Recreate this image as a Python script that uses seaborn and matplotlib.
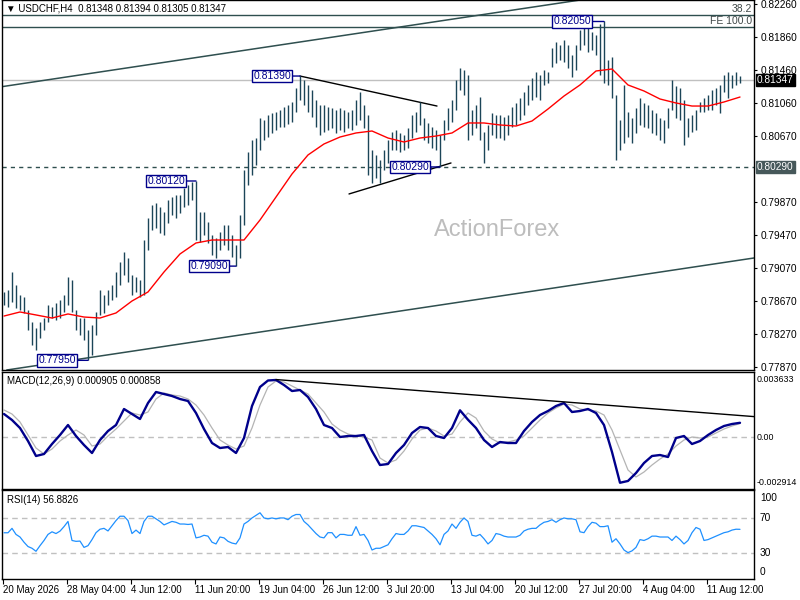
import numpy as np
import pandas as pd
import matplotlib
matplotlib.use("Agg")
import matplotlib.pyplot as plt
import seaborn as sns

# ---------------- data ----------------
header_text = "\u25BC USDCHF,H4  0.81348 0.81394 0.81305 0.81347"

bar_high = [
    0.78777, 0.78801, 0.79019, 0.78862, 0.78741, 0.78716, 0.78559, 0.78414, 0.78341, 0.78414,
    0.78462, 0.78620, 0.78595, 0.78644, 0.78680, 0.78741, 0.78958, 0.78922, 0.78559, 0.78462,
    0.78462, 0.78317, 0.78378, 0.78535, 0.78801, 0.78741, 0.78801, 0.78862, 0.79019, 0.79140,
    0.79261, 0.79188, 0.78983, 0.78958, 0.78922, 0.79406, 0.79672, 0.79830, 0.79854, 0.79805,
    0.79745, 0.79890, 0.79926, 0.79951, 0.79951, 0.80035, 0.80072, 0.80108, 0.80120, 0.79745,
    0.79745, 0.79624, 0.79467, 0.79430, 0.79503, 0.79588, 0.79588, 0.79467, 0.79346, 0.79709,
    0.80253, 0.80471, 0.80616, 0.80640, 0.80882, 0.80858, 0.80919, 0.80943, 0.80955, 0.80979,
    0.81015, 0.81040, 0.81076, 0.81245, 0.81390, 0.81342, 0.81282, 0.81221, 0.81100, 0.81040,
    0.81040, 0.81015, 0.81003, 0.80979, 0.81003, 0.80979, 0.80955, 0.80979, 0.81100, 0.81197,
    0.81040, 0.80919, 0.80495, 0.80435, 0.80374, 0.80495, 0.80616, 0.80713, 0.80737, 0.80701,
    0.80677, 0.80761, 0.80919, 0.80955, 0.81076, 0.80882, 0.80822, 0.80773, 0.80737, 0.80677,
    0.80858, 0.81003, 0.81100, 0.81342, 0.81487, 0.81463, 0.81403, 0.80979, 0.81040, 0.81136,
    0.80713, 0.80798, 0.80943, 0.80919, 0.80919, 0.80894, 0.80919, 0.81015, 0.81064, 0.81124,
    0.81197, 0.81282, 0.81366, 0.81439, 0.81403, 0.81463, 0.81439, 0.81729, 0.81802, 0.81766,
    0.81826, 0.81766, 0.81645, 0.81766, 0.81947, 0.81983, 0.81971, 0.81923, 0.81887, 0.82020,
    0.82050, 0.81584, 0.81620, 0.81161, 0.80858, 0.81282, 0.80955, 0.80882, 0.81003, 0.81124,
    0.81064, 0.81040, 0.80979, 0.80943, 0.80882, 0.80858, 0.81003, 0.81342, 0.81269, 0.81245,
    0.81100, 0.80882, 0.80919, 0.80979, 0.81076, 0.81124, 0.81161, 0.81221, 0.81245, 0.81282,
    0.81403, 0.81439, 0.81403, 0.81439, 0.81394,
]
bar_low = [
    0.78620, 0.78595, 0.78656, 0.78583, 0.78559, 0.78523, 0.78317, 0.78136, 0.78075, 0.78220,
    0.78317, 0.78414, 0.78462, 0.78438, 0.78462, 0.78535, 0.78620, 0.78535, 0.78317, 0.78257,
    0.78196, 0.77950, 0.78015, 0.78257, 0.78499, 0.78523, 0.78620, 0.78680, 0.78716, 0.78862,
    0.78983, 0.78898, 0.78741, 0.78777, 0.78716, 0.78741, 0.79285, 0.79527, 0.79551, 0.79491,
    0.79467, 0.79612, 0.79709, 0.79672, 0.79733, 0.79805, 0.79830, 0.79890, 0.79406, 0.79382,
    0.79467, 0.79370, 0.79225, 0.79188, 0.79285, 0.79346, 0.79285, 0.79200, 0.79090, 0.79188,
    0.79588, 0.80072, 0.80193, 0.80314, 0.80495, 0.80616, 0.80652, 0.80701, 0.80737, 0.80773,
    0.80773, 0.80810, 0.80834, 0.80955, 0.81100, 0.81040, 0.80955, 0.80894, 0.80773, 0.80677,
    0.80713, 0.80737, 0.80761, 0.80701, 0.80737, 0.80713, 0.80761, 0.80737, 0.80798, 0.80858,
    0.80761, 0.80193, 0.80096, 0.80156, 0.80096, 0.80253, 0.80338, 0.80495, 0.80495, 0.80471,
    0.80495, 0.80519, 0.80640, 0.80713, 0.80798, 0.80616, 0.80580, 0.80519, 0.80495, 0.80290,
    0.80616, 0.80737, 0.80834, 0.80979, 0.81221, 0.81161, 0.80616, 0.80677, 0.80761, 0.80616,
    0.80338, 0.80495, 0.80677, 0.80640, 0.80640, 0.80616, 0.80677, 0.80773, 0.80798, 0.80858,
    0.80919, 0.81040, 0.81100, 0.81136, 0.81100, 0.81282, 0.81306, 0.81499, 0.81548, 0.81584,
    0.81560, 0.81487, 0.81378, 0.81463, 0.81705, 0.81766, 0.81681, 0.81705, 0.81645, 0.81403,
    0.81306, 0.81282, 0.81124, 0.80374, 0.80495, 0.80580, 0.80652, 0.80580, 0.80701, 0.80798,
    0.80773, 0.80761, 0.80701, 0.80677, 0.80616, 0.80580, 0.80761, 0.80979, 0.80882, 0.80858,
    0.80556, 0.80652, 0.80713, 0.80737, 0.80955, 0.80955, 0.80979, 0.80983, 0.81040, 0.80943,
    0.81197, 0.81124, 0.81245, 0.81282, 0.81305,
]

# red moving average, one value every 4 bars
ma_values = [
    0.78486, 0.78535, 0.78499, 0.78462, 0.78511, 0.78474, 0.78462, 0.78523, 0.78668, 0.78777,
    0.79019, 0.79237, 0.79370, 0.79406, 0.79406, 0.79406, 0.79648, 0.79926, 0.80205, 0.80435,
    0.80568, 0.80652, 0.80701, 0.80725, 0.80640, 0.80592, 0.80640, 0.80664, 0.80701, 0.80822,
    0.80822, 0.80798, 0.80785, 0.80846, 0.80991, 0.81148, 0.81282, 0.81451, 0.81475, 0.81282,
    0.81209, 0.81112, 0.81064, 0.81027, 0.81027, 0.81076, 0.81136,
]

# MACD(12,26,9), one value every 2 bars
macd_main = [
    0.001465, 0.001083, 0.000573, -0.000255, -0.001210, -0.001083, -0.000446, 0.000127, 0.000764, 0.000064,
    -0.000510, -0.001019, -0.000191, 0.000382, 0.000764, 0.001784, 0.001465, 0.001147, 0.002166, 0.002867,
    0.002739, 0.002612, 0.002421, 0.002293, 0.001529, 0.000510, -0.000382, -0.000701, -0.000637, -0.001019,
    -0.000064, 0.001975, 0.003185, 0.003600, 0.003633, 0.003312, 0.002930, 0.002994, 0.002548, 0.001784,
    0.000764, 0.000573, 0.000000, 0.000064, 0.000064, 0.000127, -0.000892, -0.001784, -0.001720, -0.001019,
    -0.000510, 0.000255, 0.000637, 0.000573, 0.000064, -0.000064, 0.000573, 0.001700, 0.001100, 0.000573,
    -0.000191, -0.000637, -0.000319, -0.000382, -0.000382, 0.000382, 0.000956, 0.001401, 0.001656, 0.001975,
    0.002166, 0.001593, 0.001656, 0.001784, 0.001529, 0.000764, -0.000956, -0.002914, -0.002800, -0.002293,
    -0.001656, -0.001210, -0.001147, -0.001274, -0.000064, 0.000064, -0.000446, -0.000255, 0.000127, 0.000446,
    0.000701, 0.000828, 0.000905,
]
macd_signal = [
    0.001720, 0.001465, 0.000956, 0.000127, -0.000701, -0.001083, -0.000764, -0.000255, 0.000127, 0.000446,
    0.000127, -0.000573, -0.000446, 0.000064, 0.000510, 0.001019, 0.001529, 0.001401, 0.001593, 0.002421,
    0.002803, 0.002675, 0.002612, 0.002421, 0.002038, 0.001401, 0.000573, -0.000191, -0.000510, -0.000764,
    -0.000573, 0.000573, 0.002038, 0.003185, 0.003567, 0.003504, 0.003249, 0.002994, 0.002739, 0.002166,
    0.001593, 0.000828, 0.000446, 0.000191, 0.000064, 0.000000, -0.000191, -0.001338, -0.001656, -0.001465,
    -0.000892, -0.000127, 0.000446, 0.000573, 0.000382, 0.000064, 0.000191, 0.000956, 0.001529, 0.001210,
    0.000382, -0.000127, -0.000382, -0.000319, -0.000191, 0.000064, 0.000573, 0.001083, 0.001529, 0.001847,
    0.002102, 0.002038, 0.001784, 0.001720, 0.001656, 0.001401, 0.000446, -0.000828, -0.002102, -0.002548,
    -0.002230, -0.001784, -0.001401, -0.001083, -0.000573, -0.000191, 0.000000, -0.000064, 0.000000, 0.000255,
    0.000510, 0.000701, 0.000858,
]

# RSI(14), one value per bar
rsi_values = [
    52.9, 52.9, 58, 51, 48, 42, 37, 35, 31.5, 38,
    44, 51, 54, 52, 54.8, 60, 66, 44, 43, 43.3,
    36, 38, 45, 53, 57, 58, 55, 61, 67, 72,
    72, 67, 52, 56, 52, 66, 72, 72, 69, 66,
    62, 64, 66, 65, 63, 63, 62.5, 63, 47, 48,
    50, 49, 42, 40, 48, 47, 43, 41, 40, 47,
    63, 66, 70, 73, 76, 70, 69, 70, 69, 70,
    70, 68, 72, 74, 74, 66, 62, 57, 52, 48,
    47, 53, 53, 47, 51, 51, 50, 50, 60, 50,
    51, 44, 33, 35, 35, 37, 39, 46, 52, 51,
    51, 55, 61, 61, 60, 59, 55, 51, 46, 39,
    51, 55, 63, 58, 65, 70, 66, 50, 49, 51,
    46, 40, 44, 52, 51, 49, 48, 48, 48, 50,
    55, 57, 58, 58, 62, 65, 66, 68, 65, 68,
    70, 69, 69, 68, 54, 53, 60, 65, 64, 60,
    60, 61, 42, 46, 40, 33, 30, 32, 36, 45,
    44, 46, 49, 49, 48, 48, 48, 44, 49, 45,
    40, 44, 53, 59, 57, 44, 45, 47, 49, 51,
    53, 54, 56, 57, 56.8826,
]

date_labels = ["20 May 2026", "28 May 04:00", "4 Jun 12:00", "11 Jun 20:00",
               "19 Jun 04:00", "26 Jun 12:00", "3 Jul 20:00", "13 Jul 04:00",
               "20 Jul 12:00", "27 Jul 20:00", "4 Aug 04:00", "11 Aug 12:00"]
date_label_bars = [-0.25, 15.75, 31.75, 47.75, 63.75, 79.75, 95.75, 111.75,
                   127.75, 143.75, 159.75, 175.75]

price_ticks = [0.82260, 0.81860, 0.81460, 0.81060, 0.80670,
               0.79870, 0.79470, 0.79070, 0.78670, 0.78270, 0.77870]

# swing labels: bar index, price
swing_bars = [74, 48, 58, 21, 109, 150]
swing_prices = [0.81390, 0.80120, 0.79090, 0.77950, 0.80290, 0.82050]

last_price = 0.81347
support_level = 0.80290
fib_382 = 0.82128
fe_100 = 0.81983

upper_channel = [(0, 0.81265), (184, 0.82600)]
lower_channel = [(0, 0.77828), (184, 0.79163)]
triangle_upper = [(74, 0.81390), (108.25, 0.81027)]
triangle_lower = [(86.25, 0.79963), (111.75, 0.80338)]
macd_trend = [(68, 0.00366), (187.5, 0.00130)]

rsi_levels = [30, 70]

# ---------------- plotting ----------------
sns.set_style("white")
plt.rcParams['font.family'] = ['Liberation Sans', 'DejaVu Sans']

fig = plt.figure(figsize=(8, 6), dpi=100)
ax = fig.add_axes([0.0025, 0.38333, 0.94, 0.61667])
ax2 = fig.add_axes([0.0025, 0.1855, 0.94, 0.1945])
ax3 = fig.add_axes([0.0025, 0.035, 0.94, 0.14833])

n = len(bar_high)
idx = np.arange(n)
xlim = (-0.5, 187.5)

bar_color = '#1b4558'
slate = '#2f4f4f'
navy = '#00008b'

# price bars
ax.vlines(idx, bar_low, bar_high, color=bar_color, lw=1.0, zorder=3)

# moving average
df_ma = pd.DataFrame({'bar': np.arange(0, n, 4)[:len(ma_values)], 'ma': ma_values})
sns.lineplot(data=df_ma, x='bar', y='ma', ax=ax, color='#ff0000', lw=1.0, zorder=4)

# horizontal levels
ax.axhline(last_price, color='#c0c0c0', lw=1.0, zorder=1)
ax.axhline(support_level, color=slate, lw=1.0, ls=(0, (3, 3)), zorder=1)
ax.axhline(fib_382, color=slate, lw=1.0, zorder=1)
ax.axhline(fe_100, color=slate, lw=1.0, zorder=1)

# channel and triangle lines
ax.axline(upper_channel[0], upper_channel[1], color=slate, lw=1.1, zorder=2)
ax.axline(lower_channel[0], lower_channel[1], color=slate, lw=1.1, zorder=2)
for seg in (triangle_upper, triangle_lower):
    ax.plot([seg[0][0], seg[1][0]], [seg[0][1], seg[1][1]], color='black', lw=1.0, zorder=2)

ax.set_xlim(*xlim)
ax.set_ylim(0.77833, 0.82310)
ax.set_xlabel('')
ax.set_ylabel('')
ax.set_xticks([])
ax.yaxis.tick_right()
ax.set_yticks(price_ticks)
ax.set_yticklabels([f"{p:.5f}" for p in price_ticks])
ax.tick_params(axis='y', length=2.5, width=0.8, pad=2, labelsize=7.3, colors='black')

# swing labels
offsets_px = [9, 11, 8, 12, 11, 13]
for b, p, off in zip(swing_bars, swing_prices, offsets_px):
    ax.annotate(f"{p:.5f}", xy=(b, p), xytext=(-off * 0.72, 0), textcoords='offset points',
                ha='right', va='center', fontsize=7.5, color=navy, zorder=6,
                bbox=dict(boxstyle='square,pad=0.12', fc='white', ec=navy, lw=1.0),
                arrowprops=dict(arrowstyle='-', color=navy, lw=1.0, shrinkA=0, shrinkB=0))

ytr = ax.get_yaxis_transform()
ax.text(1.004, last_price - 0.00004, f"{last_price:.5f}", transform=ytr, ha='left', va='center',
        fontsize=7.3, color='white',
        bbox=dict(boxstyle='square,pad=0.1', fc='black', ec='black'), clip_on=False)
ax.text(1.004, support_level, f"{support_level:.5f}", transform=ytr, ha='left', va='center',
        fontsize=7.3, color='white',
        bbox=dict(boxstyle='square,pad=0.12', fc='#46585a', ec='#46585a'), clip_on=False)

ax.text(0.997, 0.977, "38.2", transform=ax.transAxes, ha='right', va='center',
        fontsize=7.5, color='#404848')
ax.text(0.997, 0.944, "FE 100.0", transform=ax.transAxes, ha='right', va='center',
        fontsize=7.5, color='#404848')
ax.text(0.005, 0.976, header_text, transform=ax.transAxes, ha='left', va='center',
        fontsize=7, color='black')
ax.text(0.658, 0.378, "ActionForex", transform=ax.transAxes, ha='center', va='center',
        fontsize=17, color='#bdbdbd', zorder=0)

# MACD panel
df_macd = pd.DataFrame({'bar': np.arange(0, n, 2)[:len(macd_main)],
                        'macd': macd_main, 'signal': macd_signal})
ax2.axhline(0, color='#c0c0c0', lw=1.0, ls=(0, (4, 3)), zorder=1)
sns.lineplot(data=df_macd, x='bar', y='signal', ax=ax2, color='#b4b4b4', lw=0.9, zorder=2)
sns.lineplot(data=df_macd, x='bar', y='macd', ax=ax2, color=navy, lw=1.7, zorder=3)
ax2.plot([macd_trend[0][0], macd_trend[1][0]], [macd_trend[0][1], macd_trend[1][1]],
         color='black', lw=1.0, zorder=4, clip_on=False)
ax2.set_xlim(*xlim)
ax2.set_ylim(-0.003293, 0.004141)
ax2.set_xlabel('')
ax2.set_ylabel('')
ax2.set_xticks([])
ax2.set_yticks([])
ytr2 = ax2.get_yaxis_transform()
for v, s in [(0.003633, "0.003633"), (0.0, "0.00"), (-0.002914, "-0.002914")]:
    ax2.text(1.003, v, s, transform=ytr2, ha='left', va='center', fontsize=6.4, color='black',
             clip_on=False)
ax2.text(0.0066, 0.923, "MACD(12,26,9) 0.000905 0.000858", transform=ax2.transAxes,
         ha='left', va='center', fontsize=7, color='black')

# RSI panel
df_rsi = pd.DataFrame({'bar': idx[:len(rsi_values)], 'rsi': rsi_values})
for lv in rsi_levels:
    ax3.axhline(lv, color='#c0c0c0', lw=1.0, ls=(0, (4, 3)), zorder=1)
sns.lineplot(data=df_rsi, x='bar', y='rsi', ax=ax3, color='#1e90ff', lw=0.9, zorder=3)
ax3.set_xlim(*xlim)
ax3.set_ylim(-0.5, 102.3)
ax3.set_xlabel('')
ax3.set_ylabel('')
ax3.set_yticks([])
ytr3 = ax3.get_yaxis_transform()
for v, s in [(93, "100"), (70, "70"), (30, "30"), (7.5, "0")]:
    ax3.text(1.008, v, s, transform=ytr3, ha='left', va='center', fontsize=7.3, color='black',
             clip_on=False)
ax3.text(0.0066, 0.888, "RSI(14) 56.8826", transform=ax3.transAxes,
         ha='left', va='center', fontsize=7, color='black')
ax3.set_xticks(date_label_bars)
ax3.set_xticklabels(date_labels, ha='left')
ax3.tick_params(axis='x', length=3.5, width=0.8, pad=1, labelsize=7, colors='black', bottom=True)

for a in (ax, ax2, ax3):
    for sp in a.spines.values():
        sp.set_visible(True)
        sp.set_color('black')
        sp.set_linewidth(1.0)
    a.set_facecolor('white')
    leg = a.get_legend()
    if leg is not None:
        leg.remove()

fig.savefig("out.png", dpi=100, facecolor='white')
